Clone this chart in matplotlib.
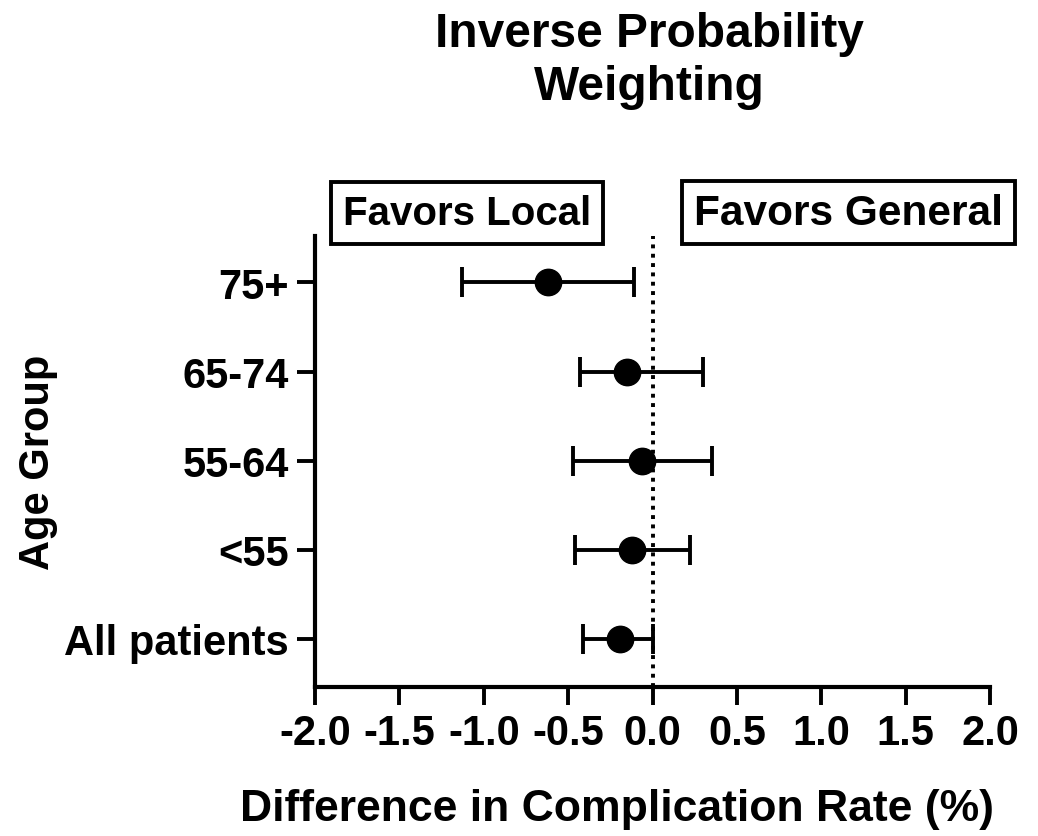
import matplotlib
matplotlib.use("Agg")
import matplotlib.pyplot as plt

plt.rcParams['font.family'] = ['Liberation Sans', 'DejaVu Sans']
plt.rcParams['font.weight'] = 'bold'

groups = ["All patients", "<55", "55-64", "65-74", "75+"]
estimate = [-0.19, -0.12, -0.06, -0.15, -0.62]
ci_low = [-0.41, -0.46, -0.47, -0.43, -1.13]
ci_high = [0.00, 0.22, 0.35, 0.30, -0.11]
x_ticks = [-2.0, -1.5, -1.0, -0.5, 0.0, 0.5, 1.0, 1.5, 2.0]


def main():
    fig = plt.figure(figsize=(10.38, 8.37), dpi=100)
    ax = fig.add_axes([0.3035, 0.178, 0.6503, 0.5388])

    pos = list(range(1, len(groups) + 1))
    err = [[e - lo for e, lo in zip(estimate, ci_low)],
           [hi - e for e, hi in zip(estimate, ci_high)]]
    ax.errorbar(estimate, pos, xerr=err, fmt='o', color='black',
                markersize=19, elinewidth=2.8, capsize=11, capthick=2.8)
    ax.axvline(0, color='black', linestyle=(0, (1, 1.4)), linewidth=2.8)

    ax.set_xlim(-2, 2)
    ax.set_ylim(0.46, 5.52)
    ax.set_xticks(x_ticks)
    ax.set_xticklabels([f"{t:.1f}" for t in x_ticks])
    ax.set_yticks(pos)
    ax.set_yticklabels(groups)
    ax.tick_params(axis='both', direction='out', length=13, width=2.8,
                   labelsize=30, pad=6)

    for side in ['top', 'right']:
        ax.spines[side].set_visible(False)
    for side in ['left', 'bottom']:
        ax.spines[side].set_linewidth(3)

    ax.set_xlabel("Difference in Complication Rate (%)", fontsize=32,
                  fontweight='bold')
    ax.xaxis.set_label_coords(0.447, -0.225)
    ax.set_ylabel("Age Group", fontsize=30, fontweight='bold', labelpad=4)

    fig.text(0.626, 0.927, "Inverse Probability\nWeighting", ha='center',
             va='center', fontsize=34.5, fontweight='bold', linespacing=1.25)

    box = dict(boxstyle='square,pad=0.3', facecolor='white',
               edgecolor='black', linewidth=2.8)
    ax.text(0.0415, 1.052, "Favors Local", transform=ax.transAxes,
            ha='left', va='center', fontsize=29, fontweight='bold', bbox=box)
    ax.text(1.019, 1.052, "Favors General", transform=ax.transAxes,
            ha='right', va='center', fontsize=30.5, fontweight='bold',
            bbox=dict(box, boxstyle='square,pad=0.28'), clip_on=False)

    fig.savefig("out.png", dpi=100)


if __name__ == '__main__':
    main()
